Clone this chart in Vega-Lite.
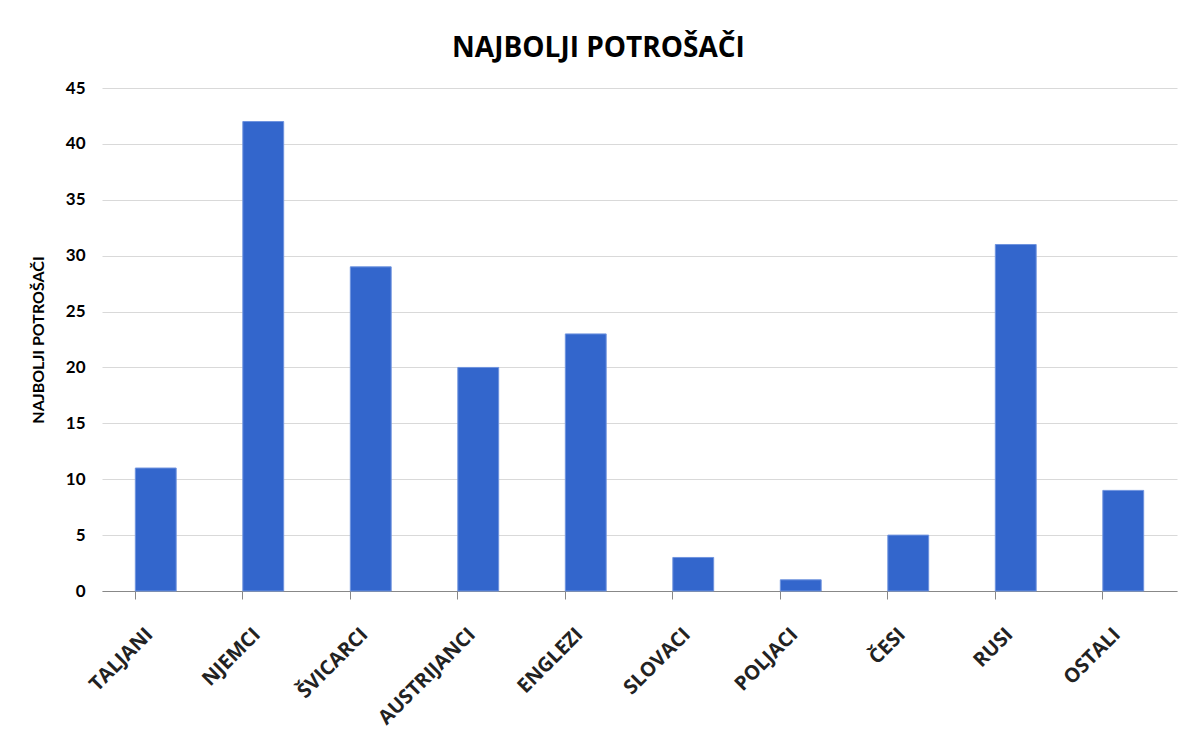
{
  "$schema": "https://vega.github.io/schema/vega-lite/v6.json",
  "autosize": "none",
  "width": 1075,
  "height": 503,
  "padding": {"left": 102, "top": 88, "right": 4, "bottom": 143},
  "background": "white",
  "title": {
    "text": "NAJBOLJI POTROŠAČI",
    "font": "Open Sans",
    "fontSize": 28,
    "fontWeight": "bold",
    "color": "#000000",
    "anchor": "middle",
    "offset": 16,
    "dx": -41
  },
  "data": {
    "values": [
      {"nacija": "TALJANI", "broj": 11},
      {"nacija": "NJEMCI", "broj": 42},
      {"nacija": "ŠVICARCI", "broj": 29},
      {"nacija": "AUSTRIJANCI", "broj": 20},
      {"nacija": "ENGLEZI", "broj": 23},
      {"nacija": "SLOVACI", "broj": 3},
      {"nacija": "POLJACI", "broj": 1},
      {"nacija": "ČESI", "broj": 5},
      {"nacija": "RUSI", "broj": 31},
      {"nacija": "OSTALI", "broj": 9}
    ]
  },
  "mark": {"type": "bar", "color": "#3366CC", "stroke": "#6f93de", "strokeWidth": 1},
  "encoding": {
    "x": {
      "field": "nacija",
      "type": "nominal",
      "sort": null,
      "scale": {"paddingInner": 0.62, "paddingOuter": 0.31},
      "axis": {
        "title": null,
        "bandPosition": 0,
        "labelAngle": -45,
        "labelAlign": "right",
        "labelBaseline": "middle",
        "labelFont": "Open Sans",
        "labelFontSize": 20,
        "labelFontWeight": "bold",
        "labelColor": "#222222",
        "labelPadding": 32,
        "labelOffset": -6,
        "domainColor": "#888888",
        "tickColor": "#888888",
        "tickSize": 8,
        "grid": false
      }
    },
    "y": {
      "field": "broj",
      "type": "quantitative",
      "scale": {"domain": [0, 45], "nice": false},
      "axis": {
        "title": "NAJBOLJI POTROŠAČI",
        "titleFont": "Lato",
        "titleFontSize": 16,
        "titleFontWeight": "bold",
        "titleColor": "#000000",
        "titlePadding": 19,
        "values": [0, 5, 10, 15, 20, 25, 30, 35, 40, 45],
        "labelFont": "Lato",
        "labelFontSize": 17,
        "labelFontWeight": "bold",
        "labelColor": "#000000",
        "labelPadding": 17,
        "ticks": false,
        "domain": false,
        "grid": true,
        "gridColor": "#d9d9d9",
        "gridWidth": 1
      }
    }
  },
  "config": {"view": {"stroke": null}}
}
